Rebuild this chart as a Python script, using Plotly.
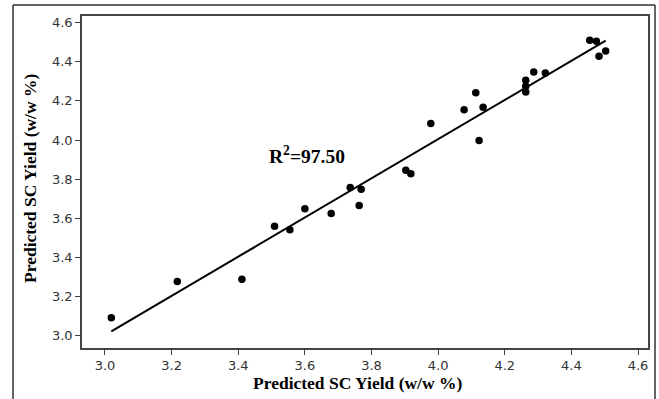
import numpy as np
import plotly.graph_objects as go

# Data
actual = [3.019, 3.217, 3.411, 3.509, 3.555, 3.600, 3.679, 3.736, 3.769, 3.763,
          3.903, 3.918, 3.978, 4.078, 4.113, 4.135, 4.123, 4.263, 4.263, 4.263,
          4.287, 4.322, 4.455, 4.475, 4.483, 4.503]
predicted = [3.091, 3.277, 3.288, 3.559, 3.541, 3.649, 3.624, 3.758, 3.749, 3.666,
             3.845, 3.828, 4.084, 4.155, 4.242, 4.167, 3.997, 4.305, 4.275, 4.246,
             4.348, 4.343, 4.510, 4.505, 4.428, 4.455]
tick_vals = [3.0, 3.2, 3.4, 3.6, 3.8, 4.0, 4.2, 4.4, 4.6]
tick_text = ["3.0", "3.2", "3.4", "3.6", "3.8", "4.0", "4.2", "4.4", "4.6"]
r2_label = "R<sup>2</sup>=97.50"
x_title = "Predicted SC Yield (w/w %)"
y_title = "Predicted SC Yield (w/w %)"

# Regression line computed from the data
slope, intercept = np.polyfit(actual, predicted, 1)
fit_x = [min(actual), max(actual)]
fit_y = [slope * v + intercept for v in fit_x]

fig = go.Figure()
fig.add_trace(go.Scatter(x=fit_x, y=fit_y, mode="lines",
                         line=dict(color="black", width=2), showlegend=False,
                         hoverinfo="skip"))
fig.add_trace(go.Scatter(x=actual, y=predicted, mode="markers",
                         marker=dict(color="black", size=7.5), showlegend=False))

axis_common = dict(
    showgrid=False, zeroline=False, showline=True, mirror=True,
    linecolor="#444444", linewidth=1.5, automargin=False,
    ticks="outside", ticklen=5, tickwidth=1.2, tickcolor="#444444",
    tickvals=tick_vals, ticktext=tick_text,
    tickfont=dict(family="DejaVu Sans", size=13, color="#333333"),
)

title_font = dict(family="Liberation Serif", size=17.5, color="black", weight="bold")

border = dict(color="#333333", width=1.5)
fig.update_layout(
    width=659, height=399,
    margin=dict(l=82, r=11, t=16, b=51, autoexpand=False),
    paper_bgcolor="white", plot_bgcolor="white",
    xaxis=dict(range=[2.931, 4.630], **axis_common),
    yaxis=dict(range=[2.937, 4.634], **axis_common),
    annotations=[
        dict(x=3.605, y=3.925, xref="x", yref="y", text=r2_label, showarrow=False,
             font=dict(family="Liberation Serif", size=19.5, color="black", weight="bold")),
        dict(x=0.486, y=-0.105, xref="paper", yref="paper", text=x_title,
             showarrow=False, xanchor="center", yanchor="middle", font=title_font),
        dict(x=-0.0919, y=0.512, xref="paper", yref="paper", text=y_title,
             showarrow=False, xanchor="center", yanchor="middle", textangle=-90,
             font=title_font),
    ],
    shapes=[
        dict(type="line", xref="paper", yref="paper", x0=-0.1219, x1=-0.1219,
             y0=1.0331, y1=-0.3, line=border),
        dict(type="line", xref="paper", yref="paper", x0=-0.1219, x1=1.0124,
             y0=1.0331, y1=1.0331, line=border),
        dict(type="line", xref="paper", yref="paper", x0=1.0124, x1=1.0124,
             y0=1.0331, y1=-0.3, line=border),
    ],
)

fig.write_html("out.html", config={"displayModeBar": False},
               post_script="document.body.style.margin='0';document.body.style.overflow='hidden';")
